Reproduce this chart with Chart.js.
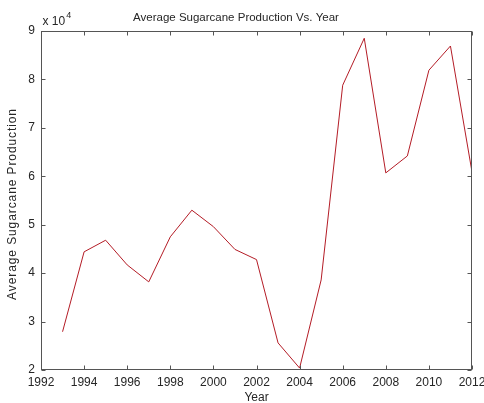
<!DOCTYPE html>
<html>
<head>
<meta charset="utf-8">
<script src="https://cdn.jsdelivr.net/npm/chart.js@4/dist/chart.umd.min.js"></script>
<style>
  html, body { margin: 0; padding: 0; background: #fff; }
  #wrap { width: 484px; height: 403px; }
</style>
</head>
<body>
<div id="wrap"><canvas id="c" width="484" height="403"></canvas></div>
<script>
// Yearly average sugarcane production
const years = [1993, 1994, 1995, 1996, 1997, 1998, 1999, 2000, 2001, 2002,
               2003, 2004, 2005, 2006, 2007, 2008, 2009, 2010, 2011, 2012];
const production = [27900, 44400, 46800, 41700, 38200, 47500, 53000, 49600, 44900, 42800,
                    25600, 20400, 38600, 78800, 88500, 60700, 64200, 81900, 86900, 60900];
const xTickValues = [1992, 1994, 1996, 1998, 2000, 2002, 2004, 2006, 2008, 2010, 2012];
const yTickValues = [20000, 30000, 40000, 50000, 60000, 70000, 80000, 90000];
const yExponent = 4;
const yAxisLabel = 'Average Sugarcane Production';

const FONT = 'Liberation Sans, Arial, Helvetica, sans-serif';
const AXIS_COLOR = '#555555';
const TEXT_COLOR = '#262626';

// MATLAB-like axes box with inward ticks on all four sides, exponent and y label
const axesBox = {
  id: 'axesBox',
  beforeDraw(chart) {
    const { ctx } = chart;
    ctx.save();
    ctx.fillStyle = '#fff';
    ctx.fillRect(0, 0, chart.width, chart.height);
    ctx.restore();
  },
  afterDatasetsDraw(chart) {
    const { ctx, chartArea: a, scales } = chart;
    const L = Math.round(a.left) + 0.5, R = Math.round(a.right) - 0.5;
    const T = Math.round(a.top) + 0.5, B = Math.round(a.bottom) - 0.5;
    const len = 4;
    ctx.save();
    ctx.strokeStyle = AXIS_COLOR;
    ctx.lineWidth = 1;
    ctx.strokeRect(L, T, R - L, B - T);
    ctx.beginPath();
    xTickValues.forEach(v => {
      const px = Math.round(scales.x.getPixelForValue(v)) + 0.5;
      ctx.moveTo(px, B); ctx.lineTo(px, B - len);
      ctx.moveTo(px, T); ctx.lineTo(px, T + len);
    });
    yTickValues.forEach(v => {
      const py = Math.round(scales.y.getPixelForValue(v)) + 0.5;
      ctx.moveTo(L, py); ctx.lineTo(L + len, py);
      ctx.moveTo(R, py); ctx.lineTo(R - len, py);
    });
    ctx.stroke();

    // exponent label above the y axis
    ctx.fillStyle = TEXT_COLOR;
    ctx.textBaseline = 'alphabetic';
    ctx.textAlign = 'left';
    ctx.font = '12px ' + FONT;
    const base = 'x 10';
    ctx.fillText(base, L + 1, 25);
    const w = ctx.measureText(base).width;
    ctx.font = '9px ' + FONT;
    ctx.fillText(String(yExponent), L + 1 + w + 1, 18);

    // rotated y axis label, loosely spaced
    ctx.font = '12px ' + FONT;
    ctx.letterSpacing = '0.9px';
    ctx.textAlign = 'center';
    ctx.translate(16, 204);
    ctx.rotate(-Math.PI / 2);
    ctx.fillText(yAxisLabel, 0, 0);
    ctx.restore();
  }
};

new Chart(document.getElementById('c'), {
  type: 'line',
  data: {
    datasets: [{
      data: years.map((y, i) => ({ x: y, y: production[i] })),
      borderColor: '#b41c26',
      borderWidth: 1,
      pointRadius: 0,
      tension: 0,
      fill: false
    }]
  },
  options: {
    responsive: false,
    animation: false,
    devicePixelRatio: 1,
    layout: { padding: { top: 0, right: 12, left: 0, bottom: 0 } },
    plugins: {
      legend: { display: false },
      tooltip: { enabled: false },
      title: {
        display: true,
        text: 'Average Sugarcane Production Vs. Year',
        color: TEXT_COLOR,
        font: { family: FONT, size: 11.5, weight: 'normal' },
        padding: { top: 10.5, bottom: 6.7 }
      }
    },
    scales: {
      x: {
        type: 'linear',
        min: 1992,
        max: 2012,
        afterBuildTicks: s => { s.ticks = xTickValues.map(v => ({ value: v })); },
        ticks: {
          color: TEXT_COLOR,
          font: { family: FONT, size: 12 },
          padding: 5,
          maxRotation: 0,
          autoSkip: false,
          callback: v => String(v)
        },
        grid: { display: false, drawTicks: false },
        border: { display: false },
        title: {
          display: true,
          text: 'Year',
          color: TEXT_COLOR,
          font: { family: FONT, size: 12 },
          padding: { top: 0, bottom: -2 }
        },
        afterFit: s => { s.height = 33; s.paddingLeft = 0; s.paddingRight = 0; }
      },
      y: {
        type: 'linear',
        min: 20000,
        max: 90000,
        afterBuildTicks: s => { s.ticks = yTickValues.map(v => ({ value: v })); },
        ticks: {
          color: TEXT_COLOR,
          font: { family: FONT, size: 12 },
          padding: 6,
          callback: v => String(v / Math.pow(10, yExponent))
        },
        grid: { display: false, drawTicks: false },
        border: { display: false },
        title: { display: false },
        afterFit: s => { s.width = 41; s.paddingTop = 0; s.paddingBottom = 0; }
      }
    }
  },
  plugins: [axesBox]
});
</script>
</body>
</html>
